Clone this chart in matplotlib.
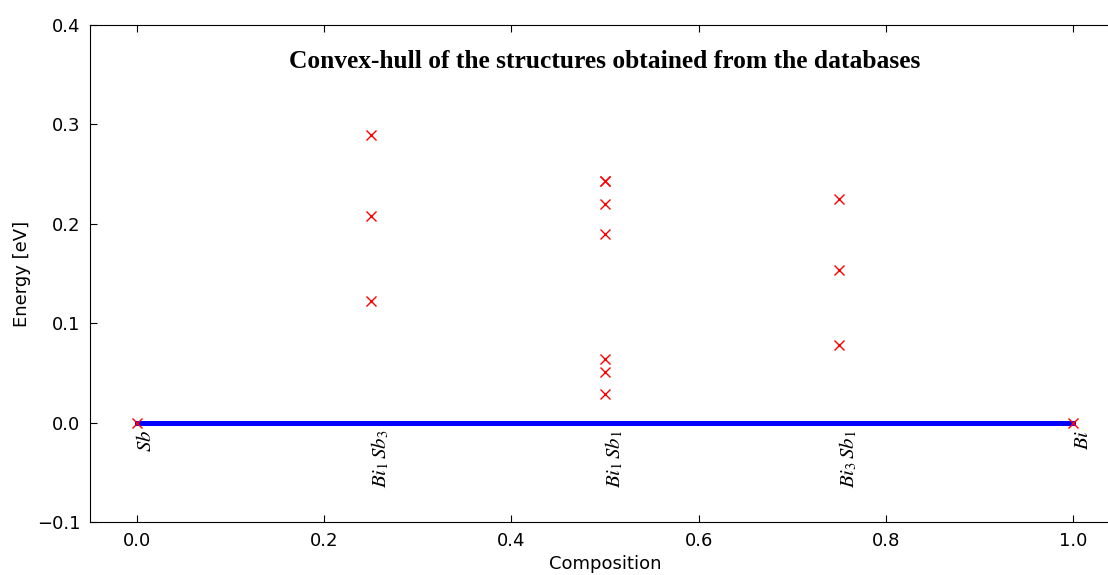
import numpy as np
from matplotlib import pyplot as plt

plt.rcParams['mathtext.fontset'] = 'stix'
plt.rcParams['xtick.direction'] = 'in'
plt.rcParams['ytick.direction'] = 'in'
plt.rcParams['xtick.top'] = True
plt.rcParams['ytick.right'] = True

# all structures found in the databases (composition, formation energy)
comp = [0.0, 0.25, 0.25, 0.25, 0.5, 0.5, 0.5, 0.5, 0.5, 0.5, 0.5,
        0.75, 0.75, 0.75, 1.0]
energy = [0.0, 0.289, 0.208, 0.122, 0.243, 0.243, 0.220, 0.190, 0.064,
          0.051, 0.029, 0.225, 0.154, 0.078, 0.0]

# points on the hull
hull_comp = [0.0, 1.0]
hull_energy = [0.0, 0.0]

# stoichiometry labels along the composition axis
label_comp = [0.0, 0.25, 0.5, 0.75, 1.0]
label_text = [r'$Sb$', r'$Bi_1\,Sb_3$', r'$Bi_1\,Sb_1$', r'$Bi_3\,Sb_1$', r'$Bi$']

fig = plt.figure(figsize=(11.08, 5.75), dpi=100)
ax = fig.add_axes([0.0812, 0.0922, 0.9296, 0.8643])

ax.plot(hull_comp, hull_energy, '-', color='b', lw=3.6)
ax.plot(comp, energy, 'x', color='r', ms=7.5, mew=1.0)

for xc, txt in zip(label_comp, label_text):
    ax.annotate(txt, (xc, 0.0), xytext=(-1, -5), textcoords='offset points',
                rotation=90, ha='left', va='top', fontsize=15)

ax.text(0.5, 0.927, 'Convex-hull of the structures obtained from the databases',
        transform=ax.transAxes, ha='center', va='center',
        family='Liberation Serif', weight='bold', fontsize=18.4)

ax.set_xlim(-0.05, 1.05)
ax.set_ylim(-0.1, 0.4)
ax.set_xticks([0.0, 0.2, 0.4, 0.6, 0.8, 1.0])
ax.set_yticks([-0.1, 0.0, 0.1, 0.2, 0.3, 0.4])
ax.tick_params(labelsize=13, length=5, pad=7)
ax.set_xlabel('Composition', fontsize=13)
ax.set_ylabel('Energy [eV]', fontsize=13)

plt.savefig('out.png', dpi=100)
